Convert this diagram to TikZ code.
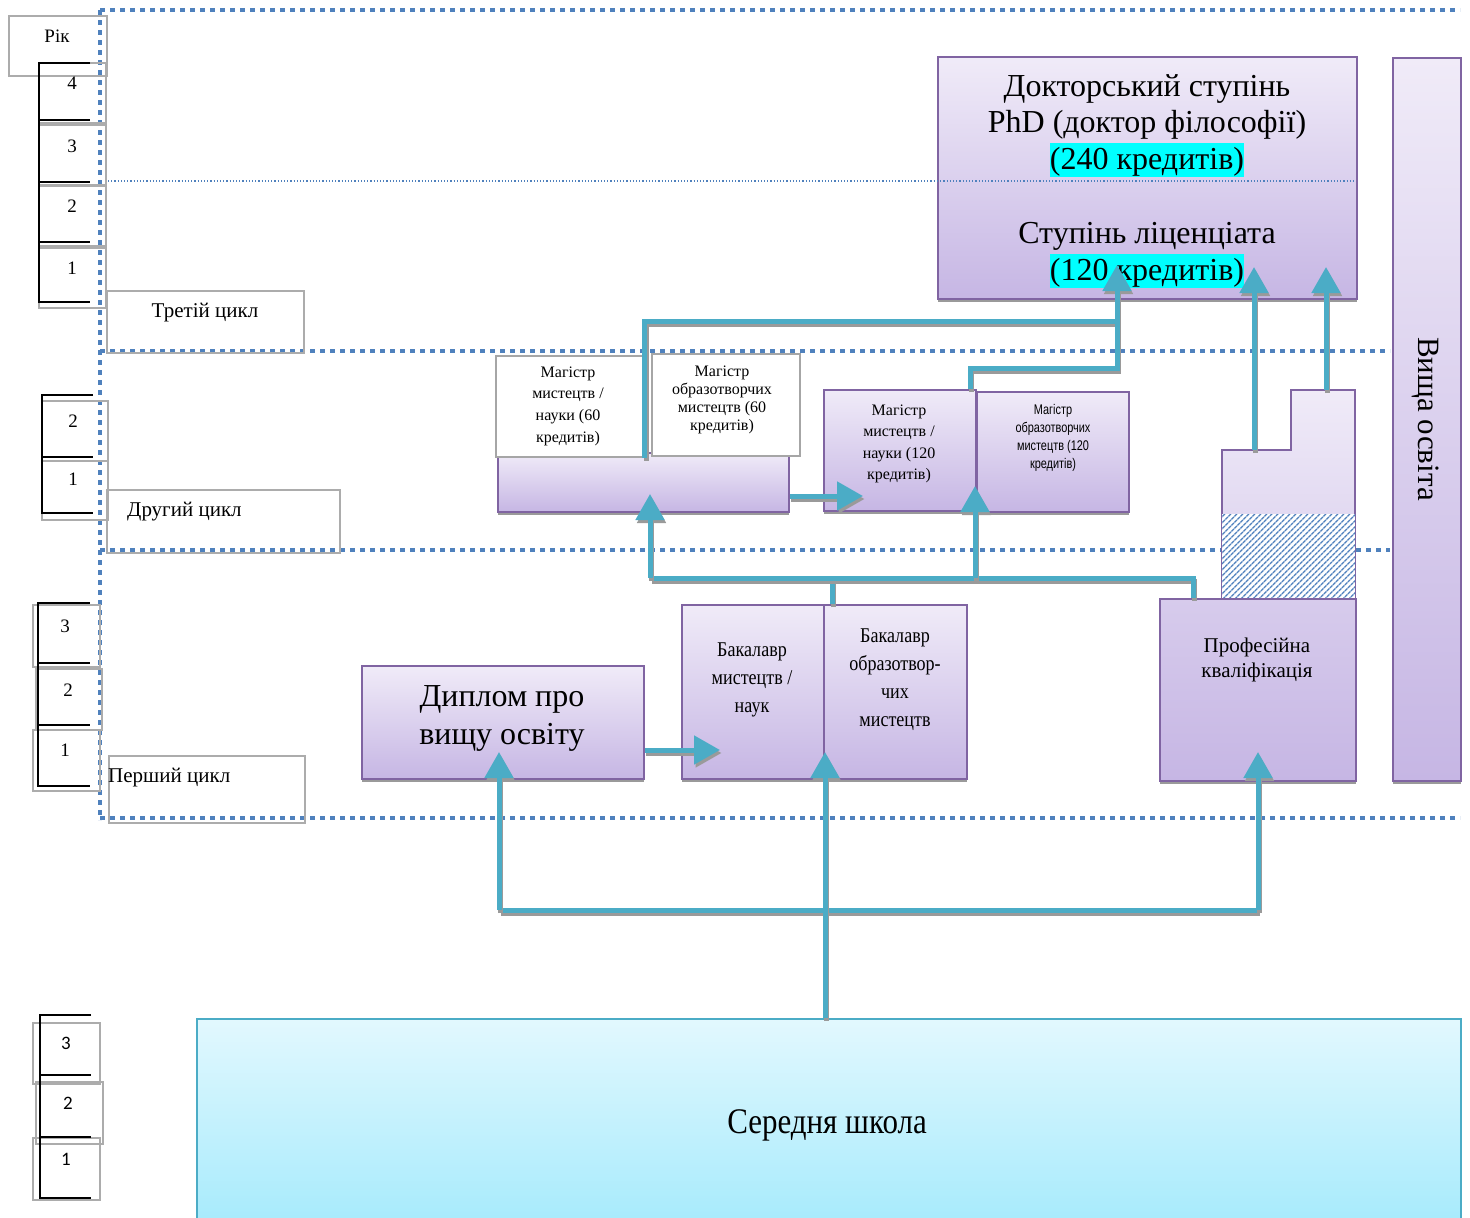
\documentclass[tikz,border=0pt]{standalone}
\usepackage{fontspec}
\setmainfont{Liberation Serif}
\newfontfamily\calib{Carlito}
\newfontfamily\condserif[FakeStretch=0.86]{Liberation Serif}
\newfontfamily\narrowsans[FakeStretch=0.78]{Liberation Sans}
\usetikzlibrary{arrows.meta,patterns.meta}

\definecolor{pborder}{HTML}{8064A2}
\definecolor{ptop}{HTML}{F0EBF8}
\definecolor{pbot}{HTML}{C6B6E4}
\definecolor{teal1}{HTML}{4BACC6}
\definecolor{zoneblue}{HTML}{4F81BD}
\definecolor{shadowgray}{HTML}{9A9A9A}
\definecolor{stop}{HTML}{E2F8FE}
\definecolor{sbot}{HTML}{A4EAFC}
\definecolor{hl}{HTML}{00FFFF}

\newcommand\fs[2]{\fontsize{#1}{#2}\selectfont}
\newcommand\hlt[1]{{\setlength\fboxsep{0pt}\colorbox{hl}{\rule[-8pt]{0pt}{34pt}#1}}}

\begin{document}
\begin{tikzpicture}[x=1pt,y=-1pt,
  pbox/.style={draw=pborder, line width=1.8pt, top color=ptop, bottom color=pbot,
    preaction={fill=shadowgray, transform canvas={yshift=-3pt}},
    inner sep=0pt, anchor=north west},
  wbox/.style={draw=gray!70, line width=1.5pt, fill=white, inner sep=0pt, anchor=north west},
  yearbox/.style={draw=gray!65, line width=1.5pt, inner sep=0pt, anchor=north west},
  yearbar/.style={draw=black, line width=1.6pt},
  link/.style={draw=teal1, line width=5pt,
    preaction={draw=shadowgray, line width=5pt, transform canvas={xshift=1.5pt,yshift=-3pt}}},
  tip/.style={-{Triangle[width=28pt,length=26pt]}},
  zone/.style={draw=zoneblue, line width=4pt, dash pattern=on 5pt off 5pt},
  lbl/.style={inner sep=0pt, align=center},
]
\useasboundingbox (0,0) rectangle (1470,1218);

% ---------- cycle zones ----------
\draw[zone] (100,10) -- (1460,10);
\draw[zone] (100,10) -- (100,820);
\draw[zone] (100,351) -- (1390,351);
\draw[zone] (100,550) -- (1222,550);
\draw[zone] (1356,550) -- (1390,550);
\draw[zone] (100,818) -- (1460,818);
\draw[draw=zoneblue, line width=1.2pt, dotted] (108,181) -- (1356,181);

% ---------- year scale, third cycle ----------
\node[yearbox, minimum width=98, minimum height=60] (rik) at (8,15) {};
\node[lbl, font=\fs{19}{22}] (rikt) at (57,36) {Рік};
\node[yearbox, minimum width=67, minimum height=60] (t4) at (38,62) {};
\node[yearbox, minimum width=67, minimum height=60] (t3) at (38,124) {};
\node[yearbox, minimum width=67, minimum height=60] (t2) at (38,185) {};
\node[yearbox, minimum width=67, minimum height=60] (t1) at (38,247) {};
\draw[yearbar] (90,63) -- (39,63) -- (39,302) -- (90,302);
\draw[yearbar] (39,120) -- (90,120);
\draw[yearbar] (39,182) -- (90,182);
\draw[yearbar] (39,242) -- (90,242);
\node[lbl, font=\fs{19}{22}] (t4n) at (72,83) {4};
\node[lbl, font=\fs{19}{22}] (t3n) at (72,146) {3};
\node[lbl, font=\fs{19}{22}] (t2n) at (72,206) {2};
\node[lbl, font=\fs{19}{22}] (t1n) at (72,268) {1};
\node[yearbox, minimum width=197, minimum height=62] (c3) at (106,290) {};
\node[lbl, font=\fs{21}{24}] (c3t) at (205,313) {Третій цикл};

% ---------- year scale, second cycle ----------
\node[yearbox, minimum width=66, minimum height=60] (s2) at (41,400) {};
\node[yearbox, minimum width=66, minimum height=59] (s1) at (41,460) {};
\draw[yearbar] (93,395) -- (42,395) -- (42,513) -- (93,513);
\draw[yearbar] (42,457) -- (93,457);
\node[lbl, font=\fs{19}{22}] (s2n) at (73,421) {2};
\node[lbl, font=\fs{19}{22}] (s1n) at (73,479) {1};
\node[yearbox, minimum width=233, minimum height=63] (c2) at (106,489) {};
\node[lbl, font=\fs{21}{24}, anchor=west] (c2t) at (127,512) {Другий цикл};

% ---------- year scale, first cycle ----------
\node[yearbox, minimum width=67, minimum height=62] (f3) at (32,604) {};
\node[yearbox, minimum width=66, minimum height=61] (f2) at (35,668) {};
\node[yearbox, minimum width=67, minimum height=61] (f1) at (32,729) {};
\draw[yearbar] (90,603) -- (38,603) -- (38,786) -- (90,786);
\draw[yearbar] (38,663) -- (90,663);
\draw[yearbar] (38,725) -- (90,725);
\node[lbl, font=\fs{19}{22}] (f3n) at (65,626) {3};
\node[lbl, font=\fs{19}{22}] (f2n) at (68,690) {2};
\node[lbl, font=\fs{19}{22}] (f1n) at (65,750) {1};
\node[yearbox, minimum width=196, minimum height=67] (c1) at (108,755) {};
\node[lbl, font=\fs{21}{24}, anchor=west] (c1t) at (108,778) {Перший цикл};

% ---------- year scale, secondary school ----------
\node[yearbox, minimum width=67, minimum height=61] (h3) at (32,1022) {};
\node[yearbox, minimum width=67, minimum height=62] (h2) at (35,1081) {};
\node[yearbox, minimum width=67, minimum height=62] (h1) at (32,1137) {};
\draw[yearbar] (91,1015) -- (40,1015) -- (40,1198) -- (91,1198);
\draw[yearbar] (40,1075) -- (91,1075);
\draw[yearbar] (40,1137) -- (91,1137);
\node[lbl, font=\calib\fs{19}{22}] (h3n) at (66,1043) {3};
\node[lbl, font=\calib\fs{19}{22}] (h2n) at (68,1103) {2};
\node[lbl, font=\calib\fs{19}{22}] (h1n) at (66,1159) {1};

% ---------- secondary school ----------
\node[draw=teal1, line width=1.8pt, top color=stop, bottom color=sbot, inner sep=0pt,
  anchor=north west, minimum width=1264, minimum height=215] (school) at (196,1018) {};
\node[lbl, font=\condserif\fs{36}{40}] (schoolt) at (827,1125) {Середня школа};

% ---------- higher education column ----------
\node[pbox, minimum width=68, minimum height=723] (vo) at (1392,57) {};
\node[lbl, rotate=-90, font=\fs{31}{34}] (vot) at (1426,419) {Вища освіта};

% ---------- third cycle degrees ----------
\node[pbox, minimum width=419, minimum height=242] (phd) at (937,56) {};
\draw[draw=zoneblue, line width=1.2pt, dotted] (937,181) -- (1356,181);
\node[lbl, font=\fs{32}{36.5}] (phdt) at (1147,126)
  {Докторський ступінь\\PhD (доктор філософії)\\\hlt{(240 кредитів)}};
\node[lbl, font=\fs{32}{37}] (lict) at (1147,255)
  {Ступінь ліценціата\\\hlt{(120 кредитів)}};

% ---------- second cycle degrees ----------
\node[pbox, minimum width=291, minimum height=59] (m60) at (497,452) {};
\node[wbox, minimum width=148, minimum height=101] (m60a) at (495,355) {};
\node[wbox, minimum width=148, minimum height=102] (m60b) at (651,353) {};
\node[lbl, font=\fs{16}{21.7}] (m60at) at (568,406) {Магістр\\мистецтв /\\науки (60\\кредитів)};
\node[lbl, font=\fs{16}{18}] (m60bt) at (722,400) {Магістр\\образотворчих\\мистецтв (60\\кредитів)};
\node[pbox, minimum width=152, minimum height=121] (m120a) at (823,389) {};
\node[pbox, minimum width=152, minimum height=120] (m120b) at (976,391) {};
\node[lbl, font=\fs{16}{21.3}] (m120at) at (899,444) {Магістр\\мистецтв /\\науки (120\\кредитів)};
\node[lbl, font=\narrowsans\fs{14}{18}] (m120bt) at (1053,438) {Магістр\\образотворчих\\мистецтв (120\\кредитів)};

% ---------- professional qualification ----------
\path[draw=pborder, line width=1.8pt, top color=ptop, bottom color=ptop!45!pbot]
  (1222,598) -- (1222,450) -- (1291,450) -- (1291,390) -- (1355,390) -- (1355,598) -- cycle;
\fill[shadowgray] (1222,598) rectangle (1355,601);
\path[fill=white] (1222,514) rectangle (1355,598);
\path[pattern={Lines[angle=45,distance=4pt,line width=1.6pt]}, pattern color=zoneblue]
  (1222,514) rectangle (1355,598);
\node[pbox, top color=ptop!40!pbot, minimum width=196, minimum height=182] (prof) at (1159,598) {};
\node[lbl, font=\fs{21}{25}] (proft) at (1257,660) {Професійна\\кваліфікація};

% ---------- first cycle degrees ----------
\node[pbox, minimum width=282, minimum height=113] (dyp) at (361,665) {};
\node[lbl, font=\fs{32}{38}] (dypt) at (502,718) {Диплом про\\вищу освіту};
\node[pbox, minimum width=142, minimum height=174] (bachA) at (681,604) {};
\node[pbox, minimum width=143, minimum height=174] (bachB) at (823,604) {};
\node[lbl, font=\condserif\fs{21}{28}] (bachAt) at (752,680) {Бакалавр\\мистецтв /\\наук};
\node[lbl, font=\condserif\fs{21}{28}] (bachBt) at (895,680) {Бакалавр\\образотвор-\\чих\\мистецтв};

% ---------- connectors ----------
\coordinate (bus1L) at (499,910);
\coordinate (bus1M) at (825,910);
\coordinate (bus1R) at (1258,910);
\coordinate (tipBach) at (825,752);
\draw[link] (bus1L) -- (bus1R);
\draw[link,tip] (school.north -| bus1M) -- (tipBach);
\draw[link,tip] (bus1L) -- (bus1L |- tipBach);
\draw[link,tip] (bus1R) -- (bus1R |- tipBach);

\coordinate (tipDB) at (720,750);
\draw[link,tip] (dyp.east |- tipDB) -- (tipDB);

\coordinate (bus2L) at (650,578);
\coordinate (bus2B) at (832,578);
\coordinate (bus2M) at (975,578);
\coordinate (bus2R) at (1193,578);
\coordinate (tipM60) at (650,494);
\coordinate (tipM120) at (975,486);
\draw[link] (bus2B |- bachA.north) -- (bus2B);
\draw[link] (bus2L) -- (bus2R) -- (bus2R |- prof.north);
\draw[link,tip] (bus2L) -- (tipM60);
\draw[link,tip] (bus2M) -- (tipM120);

\coordinate (tipMM) at (863,496);
\draw[link,tip] (m60.east |- tipMM) -- (tipMM);

\coordinate (j1) at (970,368);
\coordinate (j2) at (1117,368);
\coordinate (j3) at (1117,321);
\coordinate (tipLic) at (1117,265);
\draw[link] (m60a.south east) -- (m60a.south east |- j3) -- (j3);
\draw[link,tip] (j1 |- m120a.north) -- (j1) -- (j2) -- (tipLic);

\coordinate (step1) at (1254,450);
\coordinate (step2) at (1326,390);
\coordinate (tipP1) at (1254,267);
\coordinate (tipP2) at (1326,267);
\draw[link,tip] (step1) -- (tipP1);
\draw[link,tip] (step2) -- (tipP2);
\end{tikzpicture}
\end{document}
